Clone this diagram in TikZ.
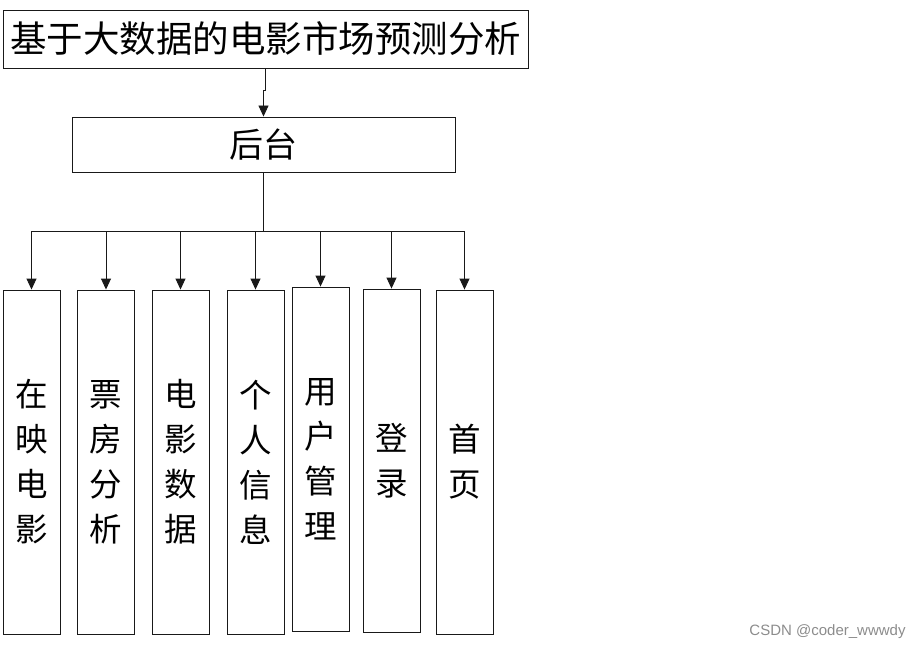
\documentclass[tikz,border=0pt]{standalone}
\usepackage{fontspec}
\newfontfamily\cjk{Noto Sans CJK SC}
\newfontfamily\marksans{Liberation Sans}
\usepackage{tikz}
\usetikzlibrary{arrows.meta, positioning}
\definecolor{mydark}{RGB}{25,25,25}
\definecolor{markgray}{RGB}{140,140,140}
\tikzset{
  titlebox/.style={rectangle, draw=mydark, line width=0.9pt, inner sep=0pt,
    minimum width=525pt, minimum height=58pt, font=\cjk\fontsize{36.5}{40}\selectfont},
  backbox/.style={rectangle, draw=mydark, line width=0.9pt, inner sep=0pt,
    minimum width=383pt, minimum height=55pt, font=\cjk\fontsize{34}{38}\selectfont},
  modbox/.style={rectangle, draw=mydark, line width=0.9pt, inner sep=0pt,
    minimum width=57pt, align=center, font=\cjk\fontsize{32.5}{45}\selectfont},
  arrow/.style={-{Triangle[length=11pt,width=10pt]}, line width=0.9pt, color=mydark},
  line/.style={line width=0.9pt, color=mydark}
}

\begin{document}
\begin{tikzpicture}[x=1pt, y=-1pt]
  \useasboundingbox (0,0) rectangle (923,650);

  % Nodes
  \node[titlebox] (title) at (265.5,39) {基于大数据的电影市场预测分析};
  \node[backbox] (back) at (263.5,144.5) {后台};
  \foreach \n/\x/\y/\h/\txt in {m1/31.5/462/344/{在\\映\\电\\影},
      m2/106/462/344/{票\\房\\分\\析}, m3/180.5/462/344/{电\\影\\数\\据},
      m4/255.5/462/344/{个\\人\\信\\息}, m5/320.5/459/344/{用\\户\\管\\理},
      m6/391.5/460.5/343/{登\\录}, m7/464.5/462/344/{首\\页}}
    \node[modbox, minimum height=\h pt] (\n) at (\x,\y) {\txt};
  \coordinate (bus) at (263.5,231);

  % Paths
  \draw[arrow] (title.south) -- ++(0,22) -| (back.north);
  \draw[line] (back.south) -- (bus);
  \draw[line] (m1.north |- bus) -- (m7.north |- bus);
  \foreach \n in {m1,m2,m3,m4,m5,m6,m7}
    \draw[arrow] (\n.north |- bus) -- (\n.north);

  % Watermark
  \node[font=\marksans\fontsize{15}{17}\selectfont, text=markgray] (mark) at (827.5,632) {CSDN @coder\_wwwdy};
\end{tikzpicture}
\end{document}
